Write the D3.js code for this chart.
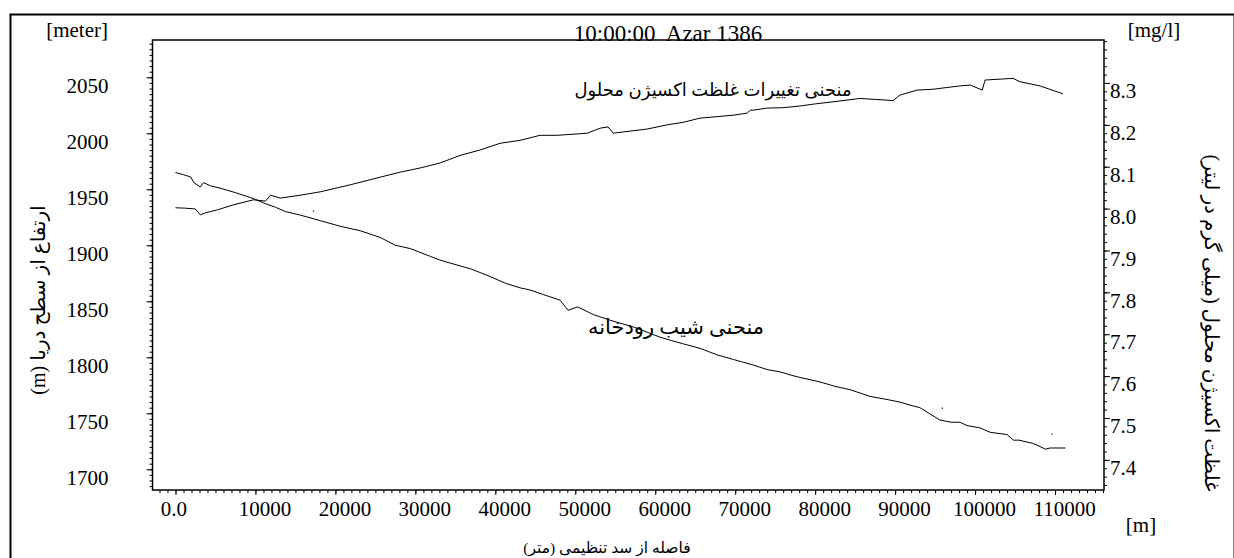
<!DOCTYPE html>
<html>
<head>
<meta charset="utf-8">
<script src="https://cdn.jsdelivr.net/npm/d3@7"></script>
<style>
  body { margin: 0; background: #fff; }
  text { font-family: "Liberation Serif", "DejaVu Sans", serif; fill: #000; }
</style>
</head>
<body>
<div id="chart"></div>
<script>
// river bed elevation (m) vs distance from dam (m)
var elevDist = [0, 1000, 1900, 2300, 3100, 3500, 4400, 5600, 7500, 8800, 10000, 11300, 12500, 13800, 15600, 18100,
  20600, 23100, 25600, 27500, 29400, 31900, 33000, 34400, 36900, 39400, 41300, 43100, 44400, 46000, 48100, 49100, 50300,
  52300, 54400, 57300, 60600, 62000, 63500, 65600, 67800, 69800, 70800, 72300, 74000, 75600, 77000, 78100, 80600, 82500,
  84400, 86900, 88500, 90600, 92000, 93100, 95600, 97000, 98100, 99000, 100600, 101900, 104000, 104800, 105500, 107300,
  108800, 109400, 111300];
var elevation = [1965, 1963, 1961, 1956, 1952, 1956, 1953, 1951, 1947, 1944, 1941, 1937, 1934, 1930, 1927, 1922,
  1917, 1913, 1907, 1900, 1897, 1890, 1887, 1884, 1879, 1872, 1866, 1862, 1860, 1856, 1851, 1842, 1845,
  1838, 1833, 1827, 1818, 1815, 1812, 1808, 1802, 1798, 1796, 1793, 1789, 1787, 1784, 1782, 1778, 1774,
  1771, 1765, 1763, 1760, 1757, 1755, 1744, 1742, 1742, 1739, 1737, 1733, 1731, 1726, 1726, 1723,
  1718, 1719, 1719];

// dissolved oxygen (mg/l) vs distance
var oxDist = [0, 1250, 2500, 3100, 3750, 5250, 7250, 9750, 11250, 11900, 13100, 15600, 18100, 21900, 25600, 28100,
  30600, 33100, 35600, 38100, 40600, 43100, 44750, 45600, 47750, 51500, 53100, 54100, 54750, 57250, 59000, 61500,
  63500, 65600, 69750, 71500, 71900, 72250, 74000, 76000, 78100, 80000, 82250, 85600, 89750, 90600, 92750, 94750,
  98100, 99400, 100900, 101250, 104750, 105600, 108100, 111000];
var oxygen = [8.002, 8.001, 7.999, 7.985, 7.990, 7.997, 8.009, 8.021, 8.018, 8.032, 8.025, 8.032, 8.040, 8.057, 8.075, 8.087,
  8.097, 8.109, 8.127, 8.140, 8.156, 8.163, 8.171, 8.175, 8.175, 8.180, 8.192, 8.195, 8.180, 8.186, 8.190, 8.200,
  8.206, 8.216, 8.223, 8.228, 8.235, 8.235, 8.240, 8.241, 8.245, 8.250, 8.255, 8.263, 8.258, 8.271, 8.283, 8.285,
  8.293, 8.295, 8.283, 8.307, 8.311, 8.303, 8.293, 8.274];

// stray points
var strayDist = [17250, 95900, 109600];
var strayElev = [1930.6, 1754.7, 1731.5];

var xTicks = [0, 10000, 20000, 30000, 40000, 50000, 60000, 70000, 80000, 90000, 100000, 110000];
var xTickLabels = ["0.0", "10000", "20000", "30000", "40000", "50000", "60000", "70000", "80000", "90000", "100000", "110000"];
var elevTicks = [1700, 1750, 1800, 1850, 1900, 1950, 2000, 2050];
var oxTicks = [7.4, 7.5, 7.6, 7.7, 7.8, 7.9, 8.0, 8.1, 8.2, 8.3];

var width = 1234, height = 558;
var plotL = 152.5, plotR = 1104, plotT = 40, plotB = 490;

var svg = d3.select("#chart").append("svg")
  .attr("width", width)
  .attr("height", height);

// outer frame
svg.append("rect")
  .attr("x", 10.5).attr("y", 14.5)
  .attr("width", 1224).attr("height", 600)
  .attr("fill", "none").attr("stroke", "#000").attr("stroke-width", 2);

var x = d3.scaleLinear().domain([-2875, 116125]).range([plotL, plotR]);
var yL = d3.scaleLinear().domain([1681.5, 2083.3]).range([plotB, plotT]);
var yR = d3.scaleLinear().domain([7.328, 8.4026]).range([plotB, plotT]);

// minor ticks
var xMinor = d3.range(-2000, 116001, 1000);
var yLMinor = d3.range(1685, 2081, 5);
var yRMinor = d3.range(7.34, 8.401, 0.02);

function styleAxis(g) {
  g.select(".domain").remove();
  g.selectAll("line").attr("stroke", "#000");
  g.selectAll("text").attr("font-size", "21px").attr("font-family", "Liberation Serif, serif");
}

svg.append("g").attr("transform", "translate(0," + plotB + ")")
  .call(d3.axisBottom(x).tickValues(xMinor).tickSize(3).tickFormat(""))
  .call(styleAxis);
svg.append("g").attr("transform", "translate(0," + plotB + ")")
  .call(d3.axisBottom(x).tickValues(xTicks).tickSize(5).tickPadding(6)
    .tickFormat(function(d, i) { return xTickLabels[i]; }))
  .call(styleAxis)
  .selectAll("text").attr("dx", function(d, i) { return i === 0 ? -2 : 9; });

svg.append("g").attr("transform", "translate(" + plotL + ",0)")
  .call(d3.axisLeft(yL).tickValues(yLMinor).tickSize(3).tickFormat(""))
  .call(styleAxis);
svg.append("g").attr("transform", "translate(" + plotL + ",0)")
  .call(d3.axisLeft(yL).tickValues(elevTicks).tickSize(6).tickPadding(38).tickFormat(d3.format("d")))
  .call(styleAxis)
  .selectAll("text").attr("dy", "0.32em").attr("y", 8);

svg.append("g").attr("transform", "translate(" + plotR + ",0)")
  .call(d3.axisRight(yR).tickValues(yRMinor).tickSize(3).tickFormat(""))
  .call(styleAxis);
svg.append("g").attr("transform", "translate(" + plotR + ",0)")
  .call(d3.axisRight(yR).tickValues(oxTicks).tickSize(6).tickPadding(0).tickFormat(d3.format(".1f")))
  .call(styleAxis)
  .selectAll("text").attr("dy", "0.32em").attr("y", 8).attr("x", 6);

// plot box
svg.append("rect")
  .attr("x", plotL).attr("y", plotT)
  .attr("width", plotR - plotL).attr("height", plotB - plotT)
  .attr("fill", "none").attr("stroke", "#000").attr("stroke-width", 1.5);

// curves
var elevLine = d3.line()
  .x(function(d, i) { return x(elevDist[i]); })
  .y(function(d) { return yL(d); });
svg.append("path")
  .datum(elevation)
  .attr("d", elevLine)
  .attr("fill", "none").attr("stroke", "#000").attr("stroke-width", 1);

var oxLine = d3.line()
  .x(function(d, i) { return x(oxDist[i]); })
  .y(function(d) { return yR(d); });
svg.append("path")
  .datum(oxygen)
  .attr("d", oxLine)
  .attr("fill", "none").attr("stroke", "#000").attr("stroke-width", 1);

svg.selectAll(".stray")
  .data(strayElev)
  .enter().append("rect")
  .attr("class", "stray")
  .attr("x", function(d, i) { return x(strayDist[i]) - 0.5; })
  .attr("y", function(d) { return yL(d) - 0.5; })
  .attr("width", 1.2).attr("height", 1.2)
  .attr("fill", "#000");

// texts
svg.append("text").attr("x", 668).attr("y", 41).attr("text-anchor", "middle")
  .attr("font-size", "23px").style("white-space", "pre").text("10:00:00  Azar 1386");
svg.append("text").attr("x", 108).attr("y", 37).attr("text-anchor", "end")
  .attr("font-size", "21px").text("[meter]");
svg.append("text").attr("x", 1154).attr("y", 37).attr("text-anchor", "middle")
  .attr("font-size", "21px").text("[mg/l]");
svg.append("text").attr("x", 1141).attr("y", 532).attr("text-anchor", "middle")
  .attr("font-size", "21px").text("[m]");

svg.append("text").attr("x", 607).attr("y", 553).attr("text-anchor", "middle")
  .attr("font-size", "15.5px").attr("direction", "rtl").attr("font-family", "DejaVu Sans")
  .text("فاصله از سد تنظیمی (متر)");

svg.append("text")
  .attr("transform", "translate(45,300) rotate(-90)")
  .attr("text-anchor", "middle").attr("font-size", "20px").attr("direction", "rtl").attr("font-family", "DejaVu Sans")
  .text("ارتفاع از سطح دریا (m)");

svg.append("text")
  .attr("transform", "translate(1205,323) rotate(90)")
  .attr("text-anchor", "middle").attr("font-size", "20px").attr("direction", "rtl").attr("font-family", "DejaVu Sans")
  .text("غلظت اکسیژن محلول (میلی گرم در لیتر)");

svg.append("text").attr("x", 713).attr("y", 96).attr("text-anchor", "middle")
  .attr("font-size", "18px").attr("direction", "rtl").attr("font-family", "DejaVu Sans")
  .text("منحنی تغییرات غلظت اکسیژن محلول");

svg.append("text").attr("x", 676).attr("y", 334).attr("text-anchor", "middle")
  .attr("font-size", "21px").attr("direction", "rtl").attr("font-family", "DejaVu Sans")
  .text("منحنی شیب رودخانه");
</script>
</body>
</html>
